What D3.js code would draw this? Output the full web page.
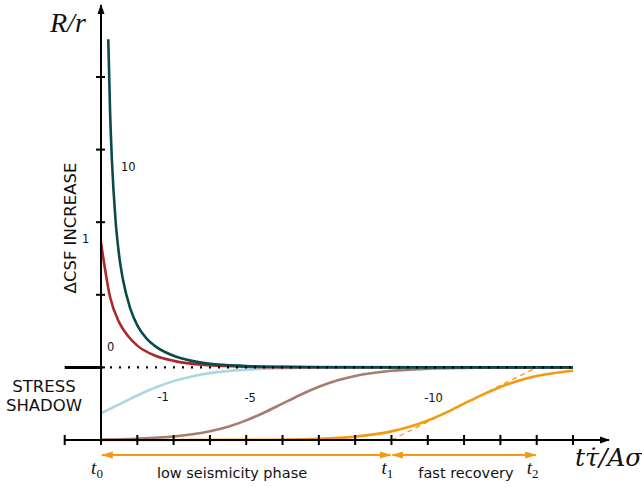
<!DOCTYPE html>
<html>
<head>
<meta charset="utf-8">
<script src="https://cdn.jsdelivr.net/npm/d3@7"></script>
<style>
  body { margin: 0; background: #fff; }
  .sans { font-family: "DejaVu Sans", sans-serif; fill: #111; }
  .math { font-family: "Liberation Serif", "DejaVu Serif", serif; font-style: italic; fill: #111; }
</style>
</head>
<body>
<svg id="chart" width="642" height="487"></svg>
<script>
// time in units of t_a, seismicity rate R/r
var tHigh = [0.2, 0.25, 0.3, 0.4, 0.5, 0.6, 0.8, 1.0, 1.25, 1.5, 2, 2.5, 3, 4, 5, 6, 8, 13];
var rHigh = [5.52, 4.52, 3.86, 3.03, 2.54, 2.22, 1.82, 1.58, 1.40, 1.29, 1.16, 1.09, 1.05, 1.02, 1.007, 1.002, 1.0, 1.0];

var tOne = [0, 0.25, 0.5, 0.75, 1, 1.5, 2, 3, 4, 5, 13];
var rOne = [2.72, 1.97, 1.62, 1.43, 1.30, 1.16, 1.09, 1.03, 1.01, 1.004, 1.0];

var tMinus1 = [0, 0.5, 1, 1.5, 2, 2.5, 3, 4, 5, 6, 8, 13];
var rMinus1 = [0.368, 0.49, 0.613, 0.723, 0.811, 0.876, 0.921, 0.969, 0.989, 0.996, 0.999, 1.0];

var tMinus5 = [0, 1, 2, 3, 3.5, 4, 4.5, 5, 5.5, 6, 6.5, 7, 8, 9, 10, 11, 13];
var rMinus5 = [0.007, 0.018, 0.048, 0.12, 0.183, 0.27, 0.379, 0.502, 0.624, 0.733, 0.819, 0.882, 0.953, 0.982, 0.993, 0.997, 1.0];

var tMinus10 = [0, 4, 6, 7, 8, 8.5, 9, 9.5, 10, 10.5, 11, 11.5, 12, 12.5, 13];
var rMinus10 = [0.0, 0.0025, 0.018, 0.047, 0.119, 0.182, 0.269, 0.377, 0.5, 0.622, 0.731, 0.817, 0.881, 0.924, 0.953];

// tangent of the -10 curve at its midpoint
var tangentT = [8, 12];
var tangentR = [0, 1];

var xTicks = [-1, 0, 1, 2, 3, 4, 5, 6, 7, 8, 9, 10, 11, 12, 13];
var yTicks = [1, 2, 3, 4, 5];
var phaseT = [0, 8, 12];   // t0, t1, t2

var curves = [
  {t: tMinus10, r: rMinus10, color: "#f39a12", label: "-10", lt: 8.9, lr: 0.53},
  {t: tMinus5, r: rMinus5, color: "#a87b70", label: "-5", lt: 3.95, lr: 0.52},
  {t: tMinus1, r: rMinus1, color: "#a9d8e5", label: "-1", lt: 1.55, lr: 0.54},
  {t: tOne, r: rOne, color: "#a82a2c", label: "", lt: 0, lr: 0},
  {t: tHigh, r: rHigh, color: "#0b4a4b", label: "", lt: 0, lr: 0}
];

var svg = d3.select("#chart");

var x = d3.scaleLinear().domain([0, 13]).range([101, 573]);
var y = d3.scaleLinear().domain([0, 5]).range([440, 77]);

var line = d3.line()
  .x(function(d) { return x(d[0]); })
  .y(function(d) { return y(d[1]); })
  .curve(d3.curveMonotoneX);

/* curves */
curves.forEach(function(c) {
  var pts = c.t.map(function(t, i) { return [t, c.r[i]]; });
  svg.append("path")
    .attr("d", line(pts))
    .attr("fill", "none")
    .attr("stroke", c.color)
    .attr("stroke-width", 2.6);
});

// dashed tangent
svg.append("path")
  .attr("d", d3.line()(tangentT.map(function(t, i) { return [x(t), y(tangentR[i])]; })))
  .attr("stroke", "#f39a12")
  .attr("stroke-width", 1.3)
  .attr("stroke-dasharray", "5,4")
  .attr("fill", "none");

// steady-state level R/r = 1
svg.append("line")
  .attr("x1", x(0)).attr("x2", x(13))
  .attr("y1", y(1)).attr("y2", y(1))
  .attr("stroke", "#000")
  .attr("stroke-width", 2.2)
  .attr("stroke-dasharray", "2,7");

/* axes */
var defs = svg.append("defs");
defs.append("marker")
  .attr("id", "axisArrow")
  .attr("viewBox", "0 0 10 10")
  .attr("refX", 9).attr("refY", 5)
  .attr("markerWidth", 5).attr("markerHeight", 5)
  .attr("orient", "auto")
  .append("path").attr("d", "M0,1.5 L10,5 L0,8.5 z").attr("fill", "#000");

defs.append("marker")
  .attr("id", "phaseArrow")
  .attr("viewBox", "0 0 10 10")
  .attr("refX", 9).attr("refY", 5)
  .attr("markerWidth", 6).attr("markerHeight", 6)
  .attr("orient", "auto-start-reverse")
  .append("path").attr("d", "M0,2 L10,5 L0,8 z").attr("fill", "#f39a12");

svg.append("line")
  .attr("x1", x(-1)).attr("x2", 609)
  .attr("y1", y(0)).attr("y2", y(0))
  .attr("stroke", "#000").attr("stroke-width", 2)
  .attr("marker-end", "url(#axisArrow)");

svg.append("line")
  .attr("x1", x(0)).attr("x2", x(0))
  .attr("y1", y(0)).attr("y2", 5)
  .attr("stroke", "#000").attr("stroke-width", 2)
  .attr("marker-end", "url(#axisArrow)");

svg.selectAll("line.xtick").data(xTicks).enter().append("line")
  .attr("class", "xtick")
  .attr("x1", function(d) { return x(d); }).attr("x2", function(d) { return x(d); })
  .attr("y1", y(0) - 5).attr("y2", y(0) + 5)
  .attr("stroke", "#000").attr("stroke-width", 2);

svg.selectAll("line.ytick").data(yTicks).enter().append("line")
  .attr("class", "ytick")
  .attr("x1", x(0) - 5).attr("x2", x(0) + 4)
  .attr("y1", function(d) { return y(d); }).attr("y2", function(d) { return y(d); })
  .attr("stroke", "#000").attr("stroke-width", 2);

// thick marker at the steady-state level
svg.append("line")
  .attr("x1", x(-1)).attr("x2", x(0))
  .attr("y1", y(1)).attr("y2", y(1))
  .attr("stroke", "#000").attr("stroke-width", 3);

/* phase arrows */
for (var i = 0; i < phaseT.length - 1; i++) {
  svg.append("line")
    .attr("x1", x(phaseT[i]) + 1).attr("x2", x(phaseT[i + 1]) - 1)
    .attr("y1", 455).attr("y2", 455)
    .attr("stroke", "#f39a12").attr("stroke-width", 2)
    .attr("marker-start", "url(#phaseArrow)")
    .attr("marker-end", "url(#phaseArrow)");
}

/* labels */
var phaseSubs = ["0", "1", "2"];
phaseT.forEach(function(t, i) {
  var tx = svg.append("text").attr("class", "math")
    .attr("x", x(t) - 4).attr("y", 474)
    .attr("text-anchor", "middle")
    .attr("font-size", 19);
  tx.append("tspan").text("t");
  tx.append("tspan").attr("dy", 4).attr("font-size", 13).attr("font-style", "normal").text(phaseSubs[i]);
});

svg.append("text").attr("class", "sans")
  .attr("x", 232).attr("y", 478)
  .attr("text-anchor", "middle").attr("font-size", 14.5)
  .text("low seismicity phase");

svg.append("text").attr("class", "sans")
  .attr("x", 466).attr("y", 478)
  .attr("text-anchor", "middle").attr("font-size", 14.5)
  .text("fast recovery");

// x-axis label: t tau-dot / A sigma
svg.append("text").attr("class", "math")
  .attr("x", 575).attr("y", 466)
  .attr("font-size", 25)
  .style("font-family", "'DejaVu Serif', serif")
  .style("font-weight", 300)
  .text("tτ̇/Aσ");

svg.append("text").attr("class", "math")
  .attr("x", 50).attr("y", 32)
  .attr("font-size", 28)
  .text("R/r");

svg.append("text").attr("class", "sans")
  .attr("transform", "translate(76,228) rotate(-90)")
  .attr("text-anchor", "middle").attr("font-size", 16.5)
  .text("ΔCSF INCREASE");

svg.append("text").attr("class", "sans")
  .attr("x", 44).attr("y", 392)
  .attr("text-anchor", "middle").attr("font-size", 16.5)
  .text("STRESS");
svg.append("text").attr("class", "sans")
  .attr("x", 44).attr("y", 411)
  .attr("text-anchor", "middle").attr("font-size", 16.5)
  .text("SHADOW");

// curve labels
var smallLabels = [
  {text: "10", px: 121, py: 171},
  {text: "1", px: 82, py: 243},
  {text: "0", px: 107, py: 351}
];
smallLabels.forEach(function(l) {
  svg.append("text").attr("class", "sans")
    .attr("x", l.px).attr("y", l.py)
    .attr("font-size", 11.5)
    .text(l.text);
});

curves.forEach(function(c) {
  if (!c.label) return;
  svg.append("text").attr("class", "sans")
    .attr("x", x(c.lt)).attr("y", y(c.lr))
    .attr("font-size", 11.5)
    .text(c.label);
});
</script>
</body>
</html>
